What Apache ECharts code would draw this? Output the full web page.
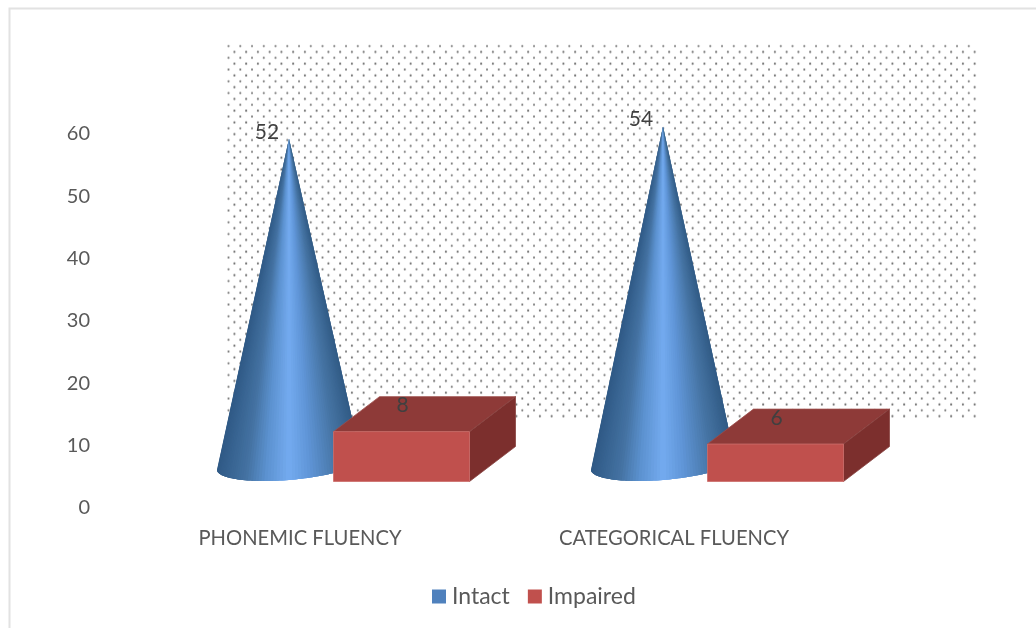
<!DOCTYPE html>
<html>
<head>
<meta charset="utf-8">
<style>html,body{margin:0;padding:0;background:#fff}#chart{width:1036px;height:628px}</style>
<script src="https://cdn.jsdelivr.net/npm/echarts@6/dist/echarts.min.js"></script>
</head>
<body>
<div id="chart"></div>
<script>
const categories = ['PHONEMIC FLUENCY', 'CATEGORICAL FLUENCY'];
const intact = [52, 54];
const impaired = [8, 6];
const yTicks = [0, 60, 10];

const FONT = 'Lato';
const TEXT = '#595959';
const LABEL = '#404040';

// Dotted back wall tile: staggered rows of small grey dots.
function dotTile() {
  const size = 47, c = document.createElement('canvas');
  c.width = c.height = size;
  const g = c.getContext('2d');
  g.fillStyle = '#6e6e6e';
  for (let r = 0; r < 8; r++) {
    for (let k = 0; k < 4; k++) {
      g.beginPath();
      g.arc(((k + (r % 2 ? 0.5 : 0)) * 11.75 + 1.5) % size, r * 5.875 + 1.5, 1.05, 0, Math.PI * 2);
      g.fill();
    }
  }
  return c;
}

// Shading across the cone's width, from its left silhouette to its right one.
const coneStops = [
  [0, [48, 90, 134]],
  [0.2, [68, 114, 162]],
  [0.34, [92, 146, 208]],
  [0.5, [116, 171, 240]],
  [0.64, [96, 150, 216]],
  [0.84, [70, 116, 164]],
  [1, [50, 92, 134]]
];

function coneShade(t) {
  for (let s = 1; s < coneStops.length; s++) {
    if (t <= coneStops[s][0]) {
      const a = coneStops[s - 1], b = coneStops[s];
      const f = (t - a[0]) / (b[0] - a[0]);
      return 'rgb(' + a[1].map((c, n) => Math.round(c + (b[1][n] - c) * f)).join(',') + ')';
    }
  }
  return 'rgb(50,92,134)';
}

// Cone: apex at the value, painted left to right as overlapping slices over a tilted elliptical base.
function renderCone(params, api) {
  const i = api.value(0), v = api.value(1);
  const top = api.coord([i, v]), floor = api.coord([i, 0]);
  const ax = top[0] - 11, ay = top[1] - 44, by = floor[1] - 44;
  const steps = 72, rim = [];
  for (let t = 0; t <= steps; t++) {
    const a = Math.PI * (1 - t / steps);
    const ex = 72 * Math.cos(a);
    rim.push([ax + ex, by + 1 - ex * 0.08 + 16 * Math.sin(a)]);
  }
  const children = [];
  for (let t = 0; t < steps; t++) {
    const pts = [[ax, ay]].concat(rim.slice(t, Math.min(t + 4, steps + 1)));
    children.push({
      type: 'polygon',
      shape: { points: pts },
      style: { fill: coneShade((rim[t][0] + rim[t + 1][0]) / 2 / 144 - (ax - 72) / 144) }
    });
  }
  children.push({
    type: 'text', z2: 5,
    style: {
      text: String(v), x: ax - 22, y: ay - 7, align: 'center', verticalAlign: 'middle',
      font: '21px ' + FONT, fill: LABEL
    }
  });
  return { type: 'group', children };
}

// Box: front face spans the value, with a skewed top and right side.
function renderBox(params, api) {
  const i = api.value(0), v = api.value(1);
  const top = api.coord([i, v]), floor = api.coord([i, 0]);
  const x0 = top[0] + 33.5, x1 = x0 + 136, yt = top[1] - 25.5, yb = floor[1] - 25.5;
  const dx = 46, dy = -35;
  const edge = { lineWidth: 0.8, lineJoin: 'round' };
  return {
    type: 'group',
    children: [
      { type: 'polygon', shape: { points: [[x0, yt], [x1, yt], [x1 + dx, yt + dy], [x0 + dx, yt + dy]] },
        style: Object.assign({ fill: '#8e3a38', stroke: '#9c4c4a' }, edge) },
      { type: 'polygon', shape: { points: [[x1, yt], [x1 + dx, yt + dy], [x1 + dx, yb + dy], [x1, yb]] },
        style: Object.assign({ fill: '#7c2f2d', stroke: '#884240' }, edge) },
      { type: 'rect', shape: { x: x0, y: yt, width: x1 - x0, height: yb - yt },
        style: Object.assign({ fill: '#c0504d', stroke: '#cc6d6a' }, edge) },
      {
        type: 'text', z2: 5,
        style: {
          text: String(v), x: top[0] + 102.5, y: yt - 26, align: 'center', verticalAlign: 'middle',
          font: '21px ' + FONT, fill: LABEL
        }
      }
    ]
  };
}

const chart = echarts.init(document.getElementById('chart'), null, { renderer: 'canvas' });
chart.setOption({
  backgroundColor: '#ffffff',
  animation: false,
  textStyle: { fontFamily: FONT },
  grid: { left: 113, top: 133, width: 748, height: 374 },
  graphic: [
    { type: 'polyline', z: -20, silent: true, shape: { points: [[9.5, 640], [9.5, 8.5], [1040, 8.5]] },
      style: { stroke: '#e2e2e2', lineWidth: 2, fill: null } },
    { type: 'rect', z: -10, silent: true, x: 227, y: 44.5, shape: { x: 0, y: 0, width: 750, height: 373.5 },
      style: { fill: { image: dotTile(), repeat: 'repeat' } } }
  ],
  legend: {
    bottom: 20, left: 432, padding: 0, itemWidth: 14, itemHeight: 14, itemGap: 18,
    icon: 'rect',
    textStyle: { fontFamily: FONT, fontSize: 23, color: TEXT, padding: [0, 0, 0, 1] },
    data: ['Intact', 'Impaired']
  },
  xAxis: {
    type: 'category', data: categories,
    axisLine: { show: false }, axisTick: { show: false },
    axisLabel: { fontFamily: FONT, fontSize: 20.2, color: TEXT, margin: 21, interval: 0 }
  },
  yAxis: {
    type: 'value', min: yTicks[0], max: yTicks[1], interval: yTicks[2],
    axisLine: { show: false }, axisTick: { show: false }, splitLine: { show: false },
    axisLabel: { fontFamily: FONT, fontSize: 20, color: TEXT, margin: 23, verticalAlign: 'top', padding: [-9, 0, 0, 0] }
  },
  series: [
    { name: 'Intact', type: 'custom', renderItem: renderCone, z: 2, clip: false,
      itemStyle: { color: '#4f81bd' }, data: intact.map((v, i) => [i, v]), encode: { x: 0, y: 1 } },
    { name: 'Impaired', type: 'custom', renderItem: renderBox, z: 3, clip: false,
      itemStyle: { color: '#c0504d' }, data: impaired.map((v, i) => [i, v]), encode: { x: 0, y: 1 } }
  ]
});
</script>
</body>
</html>
